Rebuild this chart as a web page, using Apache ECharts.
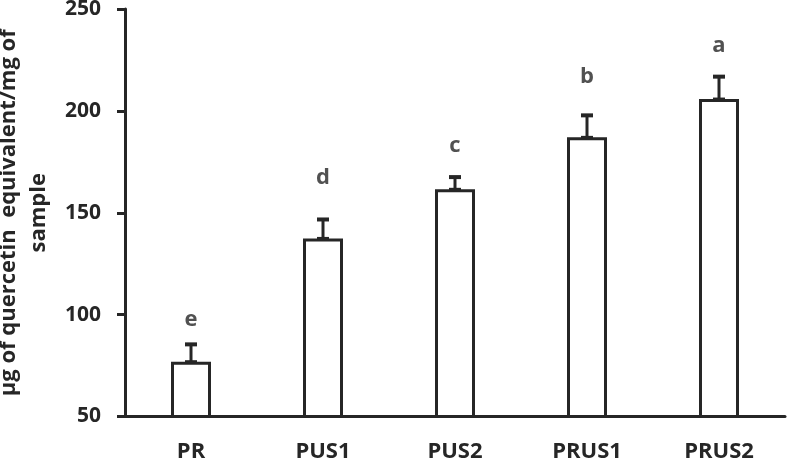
<!DOCTYPE html>
<html>
<head>
<meta charset="utf-8">
<script src="https://cdn.jsdelivr.net/npm/echarts@6/dist/echarts.min.js"></script>
<style>
	html, body { margin: 0; padding: 0; background: #fff; }
	#chart { width: 787px; height: 461px; }
</style>
</head>
<body>
<div id="chart"></div>
<script>
const categories = ['PR', 'PUS1', 'PUS2', 'PRUS1', 'PRUS2']
const means = [76.9, 137.4, 161.5, 187.0, 205.8]
const errors = [8.5, 9.3, 6.0, 10.8, 11.0]
const letters = ['e', 'd', 'c', 'b', 'a']
const letterPos = [97.3, 167, 183, 217, 232]
const yTicks = [50, 100, 150, 200, 250]

const ink = '#262626'
const font = 'Open Sans'

const chart = echarts.init(document.getElementById('chart'))

const option = {
	animation: false,
	grid: { left: 125, right: 2, top: 9, bottom: 44.5, outerBoundsMode: 'none' },
	xAxis: {
		type: 'category',
		data: categories,
		axisLine: { lineStyle: { color: ink, width: 3 } },
		axisTick: { show: false },
		axisLabel: {
			color: ink,
			fontFamily: font,
			fontWeight: 'bold',
			fontSize: 22,
			margin: 24,
		},
	},
	yAxis: {
		type: 'value',
		min: yTicks[0],
		max: yTicks[yTicks.length - 1],
		interval: 50,
		name: 'µg of quercetin  equivalent/mg of\nsample',
		nameLocation: 'middle',
		nameGap: 70,
		nameTextStyle: {
			color: ink,
			fontFamily: font,
			fontWeight: 'bold',
			fontSize: 22,
			lineHeight: 30,
		},
		axisLine: { show: true, lineStyle: { color: ink, width: 3 } },
		axisTick: { show: true, length: 8, lineStyle: { color: ink, width: 3 } },
		splitLine: { show: false },
		axisLabel: {
			color: ink,
			fontFamily: font,
			fontWeight: 'bold',
			fontSize: 21,
			margin: 24,
		},
	},
	series: [
		{
			type: 'bar',
			data: means,
			barWidth: 40,
			itemStyle: { color: '#fff', borderColor: ink, borderWidth: 3 },
		},
		{
			type: 'custom',
			data: means.map((m, i) => [i, m, m + errors[i]]),
			renderItem: (params, api) => {
				const base = api.coord([api.value(0), api.value(1)])
				const top = api.coord([api.value(0), api.value(2)])
				const half = 6
				return {
					type: 'group',
					children: [
						{
							type: 'line',
							shape: { x1: base[0], y1: base[1], x2: top[0], y2: top[1] },
							style: { stroke: ink, lineWidth: 3 },
						},
						{
							type: 'line',
							shape: { x1: top[0] - half, y1: top[1], x2: top[0] + half, y2: top[1] },
							style: { stroke: ink, lineWidth: 4 },
						},
						{
							type: 'line',
							shape: { x1: base[0] - half, y1: base[1], x2: base[0] + half, y2: base[1] },
							style: { stroke: ink, lineWidth: 3 },
						},
					],
				}
			},
			z: 5,
		},
		{
			type: 'scatter',
			data: letterPos.map((v, i) => [i, v]),
			symbolSize: 0,
			label: {
				show: true,
				position: 'inside',
				formatter: p => letters[p.dataIndex],
				color: ink,
				fontFamily: font,
				fontWeight: 'bold',
				fontSize: 22,
			},
		},
	],
}
chart.setOption(option)
</script>
</body>
</html>
